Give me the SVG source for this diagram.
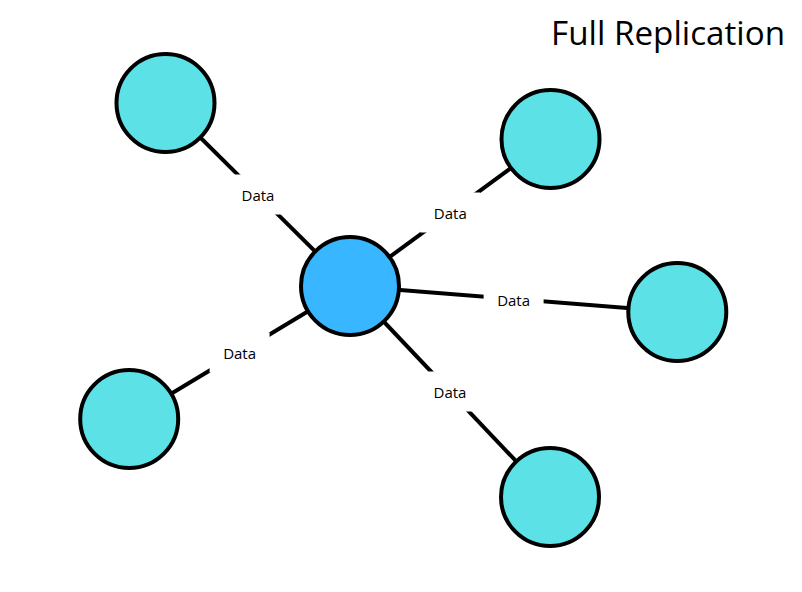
<svg xmlns="http://www.w3.org/2000/svg" width="802" height="592" viewBox="0 0 802 592">
<style>
.edge{stroke:#000;stroke-width:4;fill:none}
.lblbg{fill:#fff}
.lbl{font-family:"Open Sans","Noto Sans",sans-serif;font-size:15px;fill:#000;text-anchor:middle}
.node{stroke:#000;stroke-width:4}
.leaf{fill:#5ce1e6}
.hub{fill:#38b6ff}
.title{font-family:"Open Sans","Noto Sans",sans-serif;font-size:33.2px;fill:#000;text-anchor:end}
</style>
<rect width="802" height="592" fill="#fff"/>
<g id="connectors">
<line class="edge" x1="350" y1="286" x2="165.5" y2="103"/>
<line class="edge" x1="350" y1="286" x2="550.5" y2="139"/>
<line class="edge" x1="350" y1="286" x2="677.3" y2="312"/>
<line class="edge" x1="350" y1="286" x2="129.2" y2="419"/>
<line class="edge" x1="350" y1="286" x2="550" y2="497"/>
<rect class="lblbg" x="228" y="174.5" width="60" height="40"/>
<rect class="lblbg" x="420.3" y="192.5" width="60" height="40"/>
<rect class="lblbg" x="483.6" y="279" width="60" height="40"/>
<rect class="lblbg" x="209.6" y="332.5" width="60" height="40"/>
<rect class="lblbg" x="420" y="371.5" width="60" height="40"/>
<text class="lbl" x="258" y="201">Data</text>
<text class="lbl" x="450.3" y="219">Data</text>
<text class="lbl" x="513.6" y="306">Data</text>
<text class="lbl" x="239.6" y="359">Data</text>
<text class="lbl" x="450" y="398">Data</text>
</g>
<g id="node-hub"><circle class="node hub" cx="350" cy="286" r="49"/></g>
<g id="node-tl"><circle class="node leaf" cx="165.5" cy="103" r="49"/></g>
<g id="node-tr"><circle class="node leaf" cx="550.5" cy="139" r="49"/></g>
<g id="node-r"><circle class="node leaf" cx="677.3" cy="312" r="49"/></g>
<g id="node-bl"><circle class="node leaf" cx="129.2" cy="419" r="49"/></g>
<g id="node-br"><circle class="node leaf" cx="550" cy="497" r="49"/></g>
<text class="title" x="785" y="45">Full Replication</text>
</svg>
